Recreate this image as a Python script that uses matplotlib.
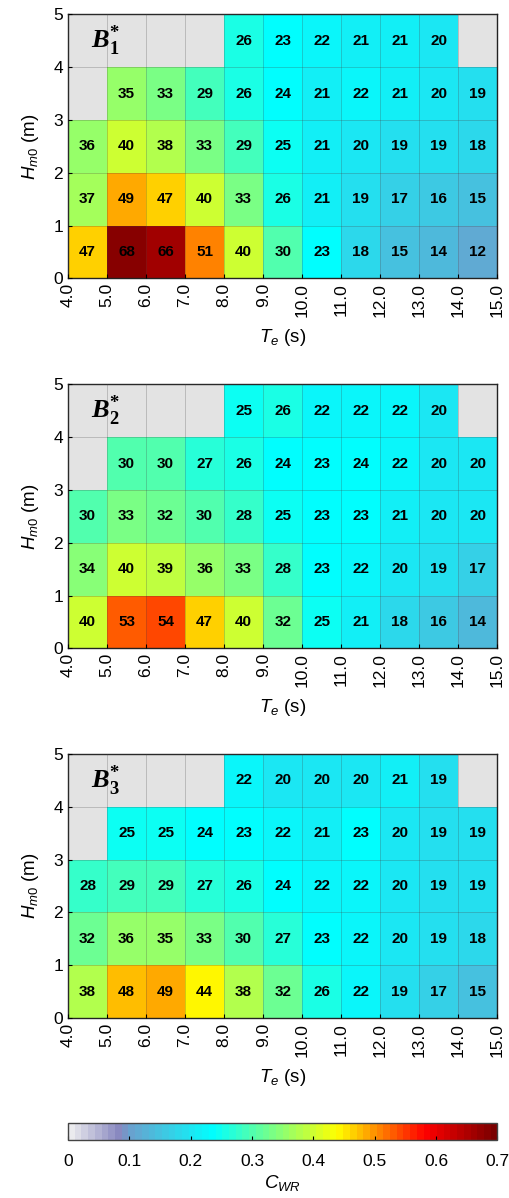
import numpy as np
import matplotlib
matplotlib.use("Agg")
import matplotlib.pyplot as plt
from matplotlib.colors import LinearSegmentedColormap

plt.rcParams['font.family'] = ['Liberation Sans', 'DejaVu Sans']
plt.rcParams['mathtext.fontset'] = 'custom'
plt.rcParams['mathtext.rm'] = 'Liberation Sans'
plt.rcParams['mathtext.it'] = 'Liberation Sans:italic'
plt.rcParams['mathtext.sf'] = 'Liberation Serif:italic:bold'
plt.rcParams['mathtext.bf'] = 'Liberation Serif:bold'

te_edges = [4, 5, 6, 7, 8, 9, 10, 11, 12, 13, 14, 15]
hm_edges = [0, 1, 2, 3, 4, 5]
te_labels = ['4.0', '5.0', '6.0', '7.0', '8.0', '9.0', '10.0', '11.0', '12.0', '13.0', '14.0', '15.0']
nan = np.nan

# C_WR in %, rows from Hm0 = 0-1 upward
b1 = [[47, 68, 66, 51, 40, 30, 23, 18, 15, 14, 12],
      [37, 49, 47, 40, 33, 26, 21, 19, 17, 16, 15],
      [36, 40, 38, 33, 29, 25, 21, 20, 19, 19, 18],
      [nan, 35, 33, 29, 26, 24, 21, 22, 21, 20, 19],
      [nan, nan, nan, nan, 26, 23, 22, 21, 21, 20, nan]]
b2 = [[40, 53, 54, 47, 40, 32, 25, 21, 18, 16, 14],
      [34, 40, 39, 36, 33, 28, 23, 22, 20, 19, 17],
      [30, 33, 32, 30, 28, 25, 23, 23, 21, 20, 20],
      [nan, 30, 30, 27, 26, 24, 23, 24, 22, 20, 20],
      [nan, nan, nan, nan, 25, 26, 22, 22, 22, 20, nan]]
b3 = [[38, 48, 49, 44, 38, 32, 26, 22, 19, 17, 15],
      [32, 36, 35, 33, 30, 27, 23, 22, 20, 19, 18],
      [28, 29, 29, 27, 26, 24, 22, 22, 20, 19, 19],
      [nan, 25, 25, 24, 23, 22, 21, 23, 20, 19, 19],
      [nan, nan, nan, nan, 22, 20, 20, 20, 21, 19, nan]]
panels = [(b1, '1'), (b2, '2'), (b3, '3')]

vmax = 0.7
nodes = [(0.0, '#ebebee'), (0.08, '#8686bf'), (0.095, '#6c9fcd'),
         (0.235, '#00ffff'), (0.44, '#ffff00'), (0.585, '#ff0000'), (0.7, '#7a0000')]
cmap = LinearSegmentedColormap.from_list('cwr', [(v / vmax, c) for v, c in nodes], N=64)
cmap.set_bad('#e3e3e3')

fig = plt.figure(figsize=(5.09, 11.98), dpi=100)
bottoms = [0.7677, 0.4588, 0.1503]
for (data, idx), bot in zip(panels, bottoms):
    ax = fig.add_axes([0.1336, bot, 0.8436, 0.2203])
    z = np.ma.masked_invalid(np.array(data, dtype=float) / 100)
    mesh = ax.pcolormesh(te_edges, hm_edges, z, cmap=cmap, vmin=0, vmax=vmax)
    for i in range(len(hm_edges) - 1):
        for j in range(len(te_edges) - 1):
            v = data[i][j]
            if not np.isnan(v):
                ax.text(te_edges[j] + 0.5, hm_edges[i] + 0.5, '%d' % v,
                        ha='center', va='center', fontsize=11, fontweight='bold')
    ax.text(4.58, 4.5, r'$\mathsf{B}^{\mathbf{*}}_{\mathbf{%s}}$' % idx,
            ha='left', va='center', fontsize=19)
    ax.set_xlim(4, 15)
    ax.set_ylim(0, 5)
    ax.set_xticks(te_edges)
    ax.set_xticklabels(te_labels, rotation=90)
    ax.set_yticks(hm_edges)
    ax.tick_params(direction='in', labelsize=12.5, length=3, width=0.8)
    ax.grid(True, color='#404040', alpha=0.25, linewidth=0.7)
    ax.set_axisbelow(False)
    for s in ax.spines.values():
        s.set_linewidth(1.0)
        s.set_color('#222222')
    ax.set_xlabel(r'$T_e$ (s)', fontsize=13.5, labelpad=7)
    ax.set_ylabel(r'$H_{m\mathrm{0}}$ (m)', fontsize=13.5, labelpad=9)

cax = fig.add_axes([0.1336, 0.0484, 0.8436, 0.0144])
cb = fig.colorbar(mesh, cax=cax, orientation='horizontal')
cb.set_ticks([0, 0.1, 0.2, 0.3, 0.4, 0.5, 0.6, 0.7])
cb.set_ticklabels(['0', '0.1', '0.2', '0.3', '0.4', '0.5', '0.6', '0.7'])
cax.tick_params(direction='in', labelsize=12.5, length=3, width=0.8, pad=10)
cb.outline.set_linewidth(1.0)
cb.outline.set_edgecolor('#444444')
cb.set_label(r'$C_{WR}$', fontsize=13.5, labelpad=3)

fig.savefig('out.png', dpi=100)
